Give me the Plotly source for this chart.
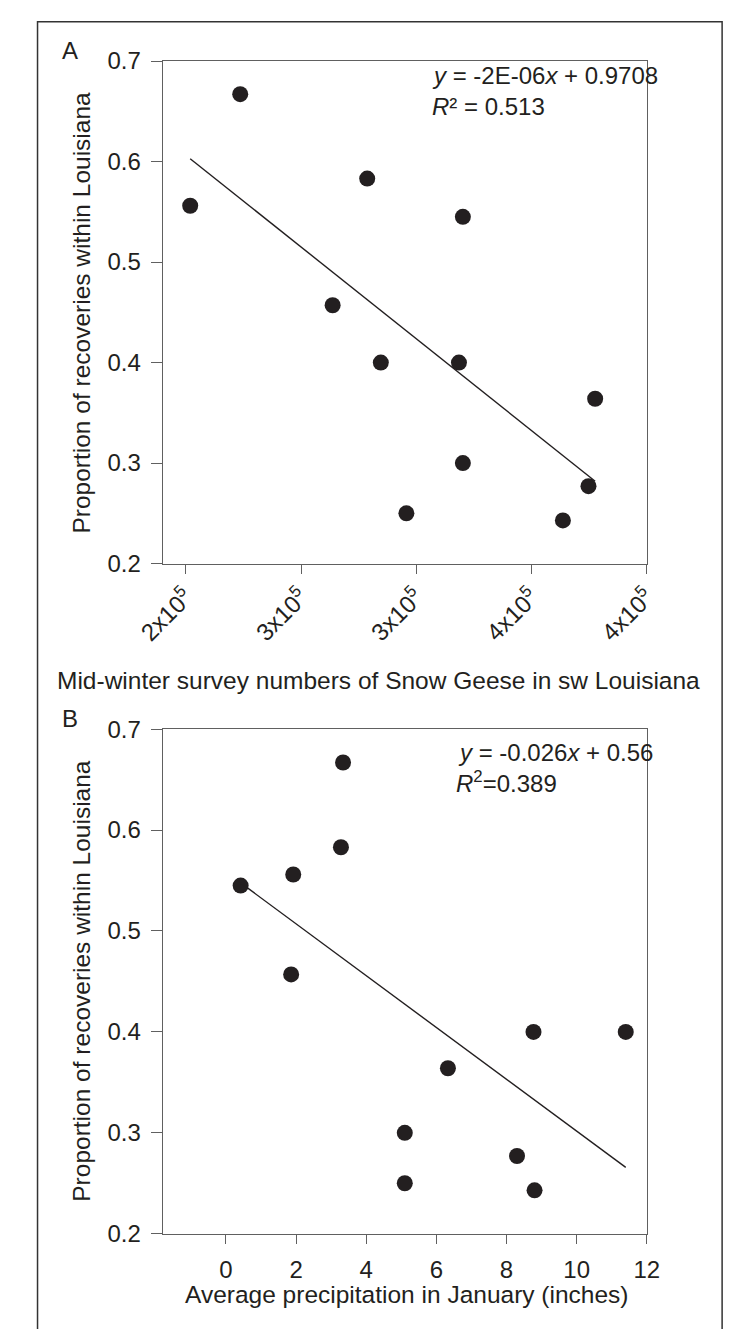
import numpy as np
import plotly.graph_objects as go

# ---------------- data ----------------
# Panel A: mid-winter survey numbers of Snow Geese vs proportion of recoveries
geese_counts = [201900, 223600, 278700, 320200, 263700, 284600,
                318500, 377600, 320200, 295700, 374700, 363600]
prop_recov_A = [0.556, 0.667, 0.583, 0.545, 0.457, 0.400,
                0.400, 0.364, 0.300, 0.250, 0.277, 0.243]

# Panel B: average January precipitation vs proportion of recoveries
precip_jan = [0.42, 1.92, 3.34, 3.28, 1.86, 5.10,
              5.10, 6.33, 8.30, 8.77, 8.80, 11.40]
prop_recov_B = [0.545, 0.556, 0.667, 0.583, 0.457, 0.300,
                0.250, 0.364, 0.277, 0.400, 0.243, 0.400]

xA_tickvals = [200000, 250000, 300000, 350000, 400000]
xA_ticktext = ["2x10<sup>5</sup>", "3x10<sup>5</sup>", "3x10<sup>5</sup>",
               "4x10<sup>5</sup>", "4x10<sup>5</sup>"]
xB_tickvals = [0, 2, 4, 6, 8, 10, 12]
y_tickvals = [0.2, 0.3, 0.4, 0.5, 0.6, 0.7]

eqA = ["<i>y</i> = -2E-06<i>x</i> + 0.9708", "<i>R</i>\u00b2 = 0.513"]
eqB = ["<i>y</i> = -0.026<i>x</i> + 0.56", "<i>R</i><sup>2</sup>=0.389"]

# ---------------- layout helpers ----------------
W, H = 737, 1329
def px_x(p):
    return p / W
def px_y(p):
    return 1 - p / H

FONT = "Liberation Sans, Arial, Helvetica, sans-serif"
TXT = "#231f20"
AXC = "#606060"

fig = go.Figure()

def add_panel(xs, ys, xaxis, yaxis):
    fig.add_trace(go.Scatter(x=xs, y=ys, mode="markers",
                             marker=dict(size=16, color=TXT),
                             xaxis=xaxis, yaxis=yaxis, showlegend=False,
                             cliponaxis=False))
    b, a = np.polyfit(np.array(xs, float), np.array(ys, float), 1)
    lx = np.array([min(xs), max(xs)], float)
    fig.add_trace(go.Scatter(x=lx, y=a + b * lx, mode="lines",
                             line=dict(color=TXT, width=1.4),
                             xaxis=xaxis, yaxis=yaxis, showlegend=False))

add_panel(geese_counts, prop_recov_A, "x", "y")
add_panel(precip_jan, prop_recov_B, "x2", "y2")

common = dict(showgrid=False, zeroline=False, showline=True, mirror=True,
              linecolor=AXC, linewidth=1.3, ticks="outside",
              tickcolor=AXC, tickwidth=1.3,
              tickfont=dict(family=FONT, size=24, color=TXT))

left, right = 141, 655
fig.update_layout(
    width=W, height=H, autosize=False,
    margin=dict(l=0, r=0, t=0, b=0),
    paper_bgcolor="white", plot_bgcolor="white",
    xaxis=dict(domain=[px_x(left), px_x(right)], range=[190000, 400000],
               tickvals=xA_tickvals, ticktext=xA_ticktext, tickangle=-45,
               ticklen=9, anchor="y", **common),
    yaxis=dict(domain=[px_y(561), px_y(48)], range=[0.2, 0.7],
               tickvals=y_tickvals, tickformat=".1f", ticklen=11,
               ticklabelstandoff=5, anchor="x", **common),
    xaxis2=dict(domain=[px_x(left), px_x(right)], range=[-1.8, 12],
                tickvals=xB_tickvals, ticklen=9, ticklabelstandoff=5,
                anchor="y2", **common),
    yaxis2=dict(domain=[px_y(1245), px_y(730)], range=[0.2, 0.7],
                tickvals=y_tickvals, tickformat=".1f", ticklen=11,
                ticklabelstandoff=5, anchor="x2", **common),
)

def ann(text, x, y, size=24, xanchor="left", yanchor="middle", angle=0):
    fig.add_annotation(text=text, x=px_x(x), y=px_y(y), xref="paper", yref="paper",
                       showarrow=False, xanchor=xanchor, yanchor=yanchor,
                       textangle=angle, font=dict(family=FONT, size=size, color=TXT))

# panel letters
ann("A", 43, 37, size=24, xanchor="center")
ann("B", 43, 719, size=24, xanchor="center")
# regression equations
ann(eqA[0], 425, 63, size=24)
ann(eqA[1], 425, 94, size=24)
ann(eqB[0], 452, 754, size=24)
ann(eqB[1], 450, 784, size=24)
# axis titles
ann("Proportion of recoveries within Louisiana", 55, 305, size=24.5,
    xanchor="center", angle=-90)
ann("Proportion of recoveries within Louisiana", 55, 987, size=24.5,
    xanchor="center", angle=-90)
ann("Mid-winter survey numbers of Snow Geese in sw Louisiana", 370, 680,
    size=24.5, xanchor="center")
ann("Average precipitation in January (inches)", 400, 1307, size=24.5,
    xanchor="center")

# outer frame
fig.add_shape(type="rect", xref="paper", yref="paper",
              x0=px_x(8), x1=px_x(735), y0=px_y(1345), y1=px_y(8),
              line=dict(color="#333333", width=1.5))

fig.write_html("out.html", config={"displayModeBar": False},
               post_script="document.body.style.margin='0px';")
